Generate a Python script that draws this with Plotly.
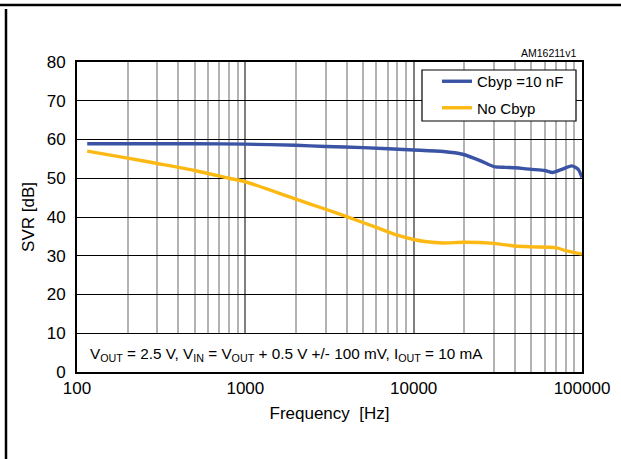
import plotly.graph_objects as go

# ---- data ----
freq_cbyp = [115, 200, 300, 500, 1000, 2000, 3000, 5000, 10000, 15000, 19500,
             25000, 30000, 35000, 40000, 50000, 60000, 67000, 75000, 87000, 95000, 100000]
svr_cbyp = [58.9, 58.9, 58.9, 58.9, 58.8, 58.5, 58.2, 57.9, 57.3, 56.9, 56.2,
            54.5, 53.0, 52.8, 52.7, 52.3, 52.0, 51.5, 52.2, 53.2, 52.3, 50.2]

freq_nocbyp = [115, 200, 300, 500, 800, 1000, 2000, 3000, 4000, 6000, 8000, 10000,
               12000, 15000, 20000, 30000, 40000, 50000, 70000, 80000, 100000]
svr_nocbyp = [57.0, 55.2, 53.8, 52.0, 50.0, 49.1, 44.6, 42.0, 40.1, 37.3, 35.3, 34.2,
              33.6, 33.3, 33.5, 33.2, 32.5, 32.3, 32.1, 31.3, 30.4]

x_major = [100, 1000, 10000, 100000]
x_major_labels = ["100", "1000", "10000", "100000"]
x_minor = [m * d for d in (100, 1000, 10000) for m in range(2, 10)]
y_ticks = [0, 10, 20, 30, 40, 50, 60, 70, 80]

series_names = ["Cbyp =10 nF", "No Cbyp"]
FONT = "Liberation Sans, Arial, Helvetica, sans-serif"

W, H = 621, 459
ML, MR, MT, MB = 77, 39, 62, 87
PW, PH = W - ML - MR, H - MT - MB
XLOG0, XLOG1 = 2, 5
Y0, Y1 = 0, 80


def px_x(p):
    return (p - ML) / PW


def px_y(p):
    return (H - MB - p) / PH


def data_x(p):
    return 10 ** (XLOG0 + px_x(p) * (XLOG1 - XLOG0))


def data_y(p):
    return Y0 + px_y(p) * (Y1 - Y0)


fig = go.Figure()
fig.add_trace(go.Scatter(x=freq_cbyp, y=svr_cbyp, mode="lines", name=series_names[0],
                         line=dict(color="#3a53a4", width=3.4, shape="spline", smoothing=0.6),
                         legendgroup="a"))
fig.add_trace(go.Scatter(x=freq_nocbyp, y=svr_nocbyp, mode="lines", name=series_names[1],
                         line=dict(color="#fdb913", width=3.4, shape="spline", smoothing=0.6),
                         legendgroup="b"))

fig.update_layout(
    width=W, height=H,
    margin=dict(l=ML, r=MR, t=MT, b=MB, pad=0),
    paper_bgcolor="white", plot_bgcolor="white",
    font=dict(family=FONT, size=16, color="black"),
    showlegend=True,
    legend=dict(x=px_x(437), y=px_y(65), xanchor="left", yanchor="top",
                bgcolor="rgba(0,0,0,0)", borderwidth=0,
                font=dict(family=FONT, size=15, color="black"),
                tracegroupgap=4, itemwidth=30),
    xaxis=dict(type="log", range=[XLOG0, XLOG1], tickvals=x_major, ticktext=x_major_labels,
               showgrid=True, gridcolor="#7f7f7f", gridwidth=1.5,
               minor=dict(tickvals=x_minor, showgrid=True, gridcolor="#b3b3b3", gridwidth=1.5, ticks=""),
               ticks="", showline=True, linecolor="black", linewidth=2, mirror=True,
               tickfont=dict(family=FONT, size=17), zeroline=False,
               title=dict(text="Frequency  [Hz]", font=dict(family=FONT, size=17), standoff=10)),
    yaxis=dict(range=[Y0, Y1], tickvals=y_ticks, showgrid=True, gridcolor="black", gridwidth=1.2,
               ticks="", showline=True, linecolor="black", linewidth=2, mirror=True,
               tickfont=dict(family=FONT, size=17), zeroline=False, ticklabelstandoff=6,
               title=dict(text="SVR [dB]", font=dict(family=FONT, size=17), standoff=8)),
)

# legend frame (white, hides grid lines behind the legend)
fig.add_shape(type="rect", xref="x", yref="y", x0=data_x(422), x1=data_x(576),
              y0=data_y(121), y1=data_y(70), fillcolor="white",
              line=dict(color="black", width=1.2), layer="between")

# white box that hides grid lines behind the conditions text
fig.add_shape(type="rect", xref="x", yref="y", x0=100, x1=29000, y0=0, y1=9.8,
              fillcolor="white", line=dict(width=0), layer="between")
fig.add_annotation(xref="paper", yref="y", x=px_x(88), y=4.6, xanchor="left", yanchor="middle",
                   showarrow=False, font=dict(family=FONT, size=15.3, color="black"),
                   text="V<sub>OUT</sub> = 2.5 V, V<sub>IN</sub> = V<sub>OUT</sub> + 0.5 V +/- 100 mV, "
                        "I<sub>OUT</sub> = 10 mA")
fig.add_annotation(xref="paper", yref="paper", x=px_x(578), y=px_y(61), xanchor="right",
                   yanchor="bottom", showarrow=False, text="AM16211v1",
                   font=dict(family=FONT, size=10.5, color="black"))

# page frame lines
fig.add_shape(type="line", xref="paper", yref="paper", x0=px_x(0), x1=px_x(W), y0=px_y(5), y1=px_y(5),
              line=dict(color="black", width=2.5))
fig.add_shape(type="line", xref="paper", yref="paper", x0=px_x(6), x1=px_x(6), y0=px_y(9), y1=px_y(H),
              line=dict(color="black", width=2.5))

fig.write_html("out.html", config={"displayModeBar": False},
               post_script="document.body.style.margin='0px';document.body.style.overflow='hidden';")
